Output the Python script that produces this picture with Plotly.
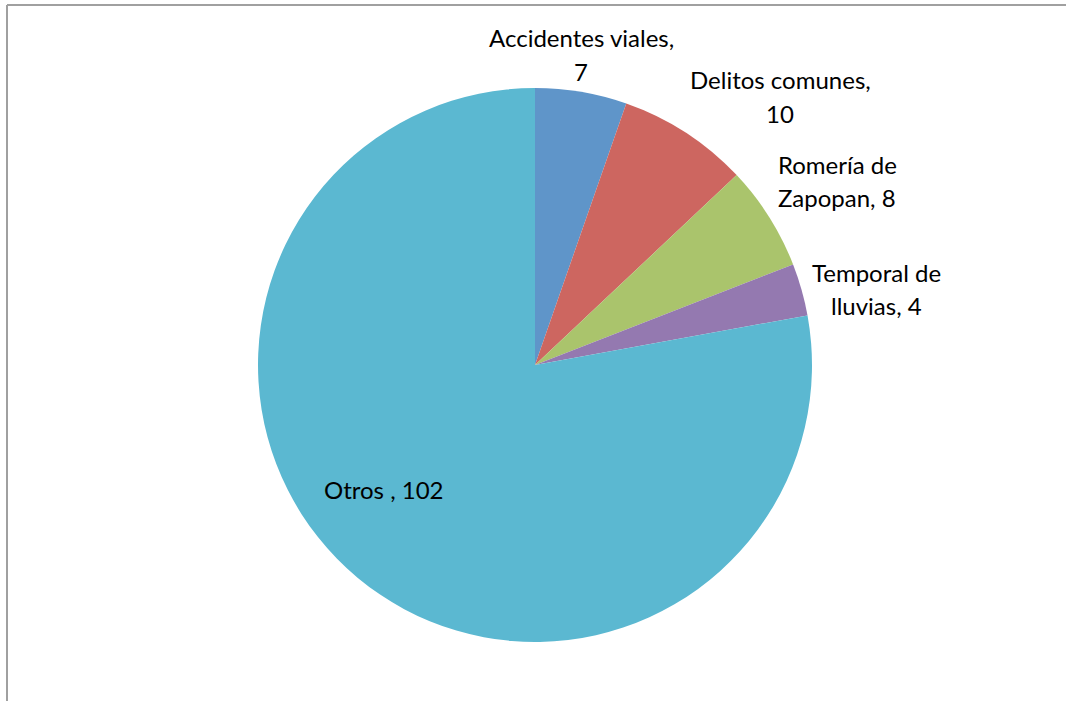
import plotly.graph_objects as go

labels = ["Accidentes viales", "Delitos comunes", "Romería de Zapopan", "Temporal de lluvias", "Otros "]
values = [7, 10, 8, 4, 102]
colors = ["#5F95C9", "#CD6660", "#AAC46C", "#9479B0", "#5BB8D1"]

# label anchor centres in pixels (x, y of first line)
label_pos = [(581, 38), (780, 80), (837, 164), (876, 272), (384, 490)]

W, H = 1066, 701
fig = go.Figure()
fig.add_trace(go.Pie(
    labels=labels, values=values, sort=False, direction="clockwise", rotation=0,
    marker=dict(colors=colors, line=dict(width=0)),
    textinfo="none", hoverinfo="label+value", showlegend=False,
    domain=dict(x=[258 / W, 812 / W], y=[1 - 642 / H, 1 - 88 / H]),
))

font = dict(family="Lato, Liberation Sans, Arial, sans-serif", size=24, color="#000000")
line_gap = 33
for lab, val, (px, py) in zip(labels, values, label_pos):
    full = f"{lab}, {val}"
    if lab.strip() == "Otros":
        lines = [full]
    else:
        words = full.split(" ")
        lines = [" ".join(words[:2]), " ".join(words[2:])]
    for i, ln in enumerate(lines):
        fig.add_annotation(x=px / W, y=1 - (py + i * line_gap) / H, xref="paper", yref="paper",
                           text=ln, showarrow=False, xanchor="center", yanchor="middle", font=font)

# chart frame (top and left edges visible)
fig.add_shape(type="line", xref="paper", yref="paper", x0=7 / W, x1=1.01, y0=1 - 5 / H, y1=1 - 5 / H,
              line=dict(color="#A0A0A0", width=2))
fig.add_shape(type="line", xref="paper", yref="paper", x0=7 / W, x1=7 / W, y0=1 - 5 / H, y1=-0.01,
              line=dict(color="#A0A0A0", width=2))

fig.update_layout(width=W, height=H, margin=dict(l=0, r=0, t=0, b=0),
                  paper_bgcolor="white", plot_bgcolor="white")
fig.write_html("out.html", config={"displayModeBar": False},
               post_script="document.body.style.margin='0';document.body.style.overflow='hidden';")
